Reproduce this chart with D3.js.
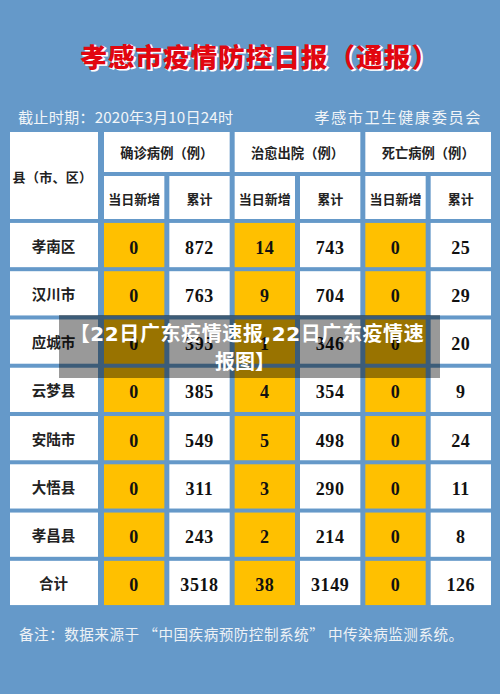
<!DOCTYPE html>
<html><head><meta charset="utf-8">
<script src="https://cdnjs.cloudflare.com/ajax/libs/d3/7.8.5/d3.min.js"></script>
<style>html,body{margin:0;padding:0;background:#6599c9}svg{display:block}</style>
</head><body><svg id="c" width="500" height="694"></svg>
<script>
const regions=["孝南区","汉川市","应城市","云梦县","安陆市","大悟县","孝昌县","合计"];
const confirmedNew=[0,0,0,0,0,0,0,0];
const confirmedTotal=[872,763,395,385,549,311,243,3518];
const curedNew=[14,9,1,4,5,3,2,38];
const curedTotal=[743,704,346,354,498,290,214,3149];
const deathNew=[0,0,0,0,0,0,0,0];
const deathTotal=[25,29,20,9,24,11,8,126];
const groupHeads=["确诊病例（例）","治愈出院（例）","死亡病例（例）"];
const subHeads=["当日新增","累计"];
const columns=[confirmedNew,confirmedTotal,curedNew,curedTotal,deathNew,deathTotal];

const SERIF="'Liberation Serif',serif", CJK="'Noto Sans CJK SC',sans-serif";
const svg=d3.select("#c");
const x=d3.scaleBand().domain(d3.range(6)).range([101.5,493.5]).paddingInner(0.0765).paddingOuter(0.0383);
const y=d3.scaleBand().domain(regions).range([221,607]).paddingInner(0.0835).paddingOuter(0.04);

function txt(g,t,px,py,size,opts={}){
  return g.append("text").attr("x",px).attr("y",py).attr("text-anchor",opts.anchor||"middle")
   .attr("dominant-baseline","central").attr("font-family",opts.font||CJK)
   .attr("font-size",size).attr("font-weight",opts.weight||700).attr("fill",opts.fill||"#1a1a1a")
   .attr("letter-spacing",opts.ls||0).text(t);
}
// title
const tg=svg.append("g");
const title="孝感市疫情防控日报（通报）";
txt(tg,title,261,56,26.7,{weight:900,fill:"#fff",ls:0.9}).attr("stroke","#fff").attr("stroke-width",1);
txt(tg,title,259.5,55,26.7,{weight:900,fill:"#e2060f",ls:0.9});
// sub title
txt(tg,"截止时期：2020年3月10日24时",18,116,15.2,{anchor:"start",weight:400,fill:"#f2f5f8",ls:0.15});
txt(tg,"孝感市卫生健康委员会",482,116,15.2,{anchor:"end",weight:400,fill:"#f2f5f8",ls:1.6});

const cells=svg.append("g");
cells.append("rect").attr("x",10).attr("y",132).attr("width",88).attr("height",87).attr("fill","#fff");
txt(cells,"县（市、区）",52.5,176,13,{fill:"#222",ls:0.3});
groupHeads.forEach((h,i)=>{
  const x0=x(i*2), w=x(i*2+1)+x.bandwidth()-x0;
  cells.append("rect").attr("x",x0).attr("y",132).attr("width",w).attr("height",40).attr("fill","#fff");
  txt(cells,h,x0+w/2,152,13.3,{fill:"#222"});
  subHeads.forEach((s,j)=>{
    const c=i*2+j;
    cells.append("rect").attr("x",x(c)).attr("y",176).attr("width",x.bandwidth()).attr("height",43).attr("fill","#fff");
    txt(cells,s,x(c)+x.bandwidth()/2,198,13,{fill:"#222"});
  });
});
regions.forEach((r,ri)=>{
  cells.append("rect").attr("x",10).attr("y",y(r)).attr("width",88).attr("height",y.bandwidth()).attr("fill","#fff");
  txt(cells,r,53.5,y(r)+y.bandwidth()/2,14.5,{fill:"#222"});
  columns.forEach((col,c)=>{
    const gold=c%2===0;
    cells.append("rect").attr("x",x(c)).attr("y",y(r)).attr("width",x.bandwidth()).attr("height",y.bandwidth())
      .attr("fill",gold?"#ffc000":"#fff");
    txt(cells,col[ri],x(c)+x.bandwidth()/2,y(r)+y.bandwidth()/2+2.5,18,{font:SERIF,fill:"#111",ls:0.6});
  });
});
// footnote
txt(svg,"备注：数据来源于 “中国疾病预防控制系统” 中传染病监测系统。",19,633,14.6,{anchor:"start",weight:400,fill:"#eef2f6",ls:0.48});
// overlay
svg.append("rect").attr("x",59).attr("y",315).attr("width",381).attr("height",63).attr("fill","#000").attr("fill-opacity",0.4);
const OV="'Noto Sans CJK SC',sans-serif";
txt(svg,"【22日广东疫情速报,22日广东疫情速",247,334,20,{font:"'DejaVu Sans','Noto Sans CJK SC',sans-serif",fill:"#fff",ls:0.6});
txt(svg,"报图】",245,360,20,{font:OV,fill:"#fff"});
</script></body></html>
